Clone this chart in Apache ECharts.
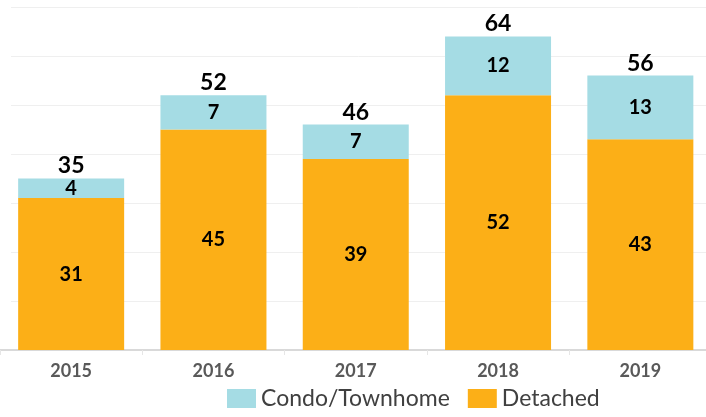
<!DOCTYPE html>
<html><head><meta charset="utf-8">
<script src="https://cdn.jsdelivr.net/npm/echarts@6/dist/echarts.min.js"></script>
<style>html,body{margin:0;padding:0;background:#fff}#c{width:706px;height:417px}</style>
</head><body><div id="c"></div>
<script>
const categories = ['2015','2016','2017','2018','2019'];
const detached = [31,45,39,52,43];
const condo = [4,7,7,12,13];
const totals = categories.map((c,i)=>detached[i]+condo[i]);
const yTicks = [0,10,20,30,40,50,60,70];

const FONT = 'Lato';
const chart = echarts.init(document.getElementById('c'));
chart.setOption({
  animation:false,
  textStyle:{fontFamily:FONT},
  grid:[
    {left:0, width:711.5, top:7, bottom:67, outerBoundsMode:'none', containLabel:false},
    {left:11, right:0, top:7, bottom:67, outerBoundsMode:'none', containLabel:false}
  ],
  legend:{
    data:['Condo/Townhome','Detached'],
    bottom:2, left:222, itemWidth:29, itemHeight:19, itemGap:18,
    textStyle:{fontSize:23, color:'#404040', fontFamily:FONT},
    icon:'rect'
  },
  xAxis:[
    {type:'category', gridIndex:0, data:categories,
     axisLine:{lineStyle:{color:'#d9d9d9', width:2}},
     axisTick:{show:true, length:5, lineStyle:{color:'#e6e6e6'}},
     axisLabel:{fontSize:18, fontWeight:'bold', color:'#595959', margin:12, fontFamily:FONT}},
    {type:'category', gridIndex:1, data:categories, show:false}
  ],
  yAxis:[
    {type:'value', gridIndex:0, min:yTicks[0], max:yTicks[yTicks.length-1], interval:10, show:false, splitLine:{show:false}},
    {type:'value', gridIndex:1, min:yTicks[0], max:yTicks[yTicks.length-1], interval:10,
     axisLine:{show:false}, axisTick:{show:false}, axisLabel:{show:false},
     splitLine:{show:true, lineStyle:{color:'#efefef', width:1}}}
  ],
  series:[
    {name:'Detached', type:'bar', stack:'a', data:detached, barWidth:106, z:3,
     itemStyle:{color:'#FCAF17'},
     label:{show:true, position:'inside', fontSize:20, fontWeight:'bold', color:'#000', fontFamily:FONT}},
    {name:'Condo/Townhome', type:'bar', stack:'a', data:condo, barWidth:106, z:3,
     itemStyle:{color:'#A5DCE4'},
     label:{show:true, position:'inside', fontSize:20, fontWeight:'bold', color:'#000', fontFamily:FONT}},
    {name:'Total', type:'bar', stack:'a', data:totals.map(()=>0), barWidth:106, z:4, silent:true,
     itemStyle:{color:'rgba(0,0,0,0)'},
     label:{show:true, position:'top', distance:1, fontSize:23, fontWeight:'bold', color:'#000', fontFamily:FONT,
            formatter:p=>String(totals[p.dataIndex])}}
  ]
});
</script></body></html>
